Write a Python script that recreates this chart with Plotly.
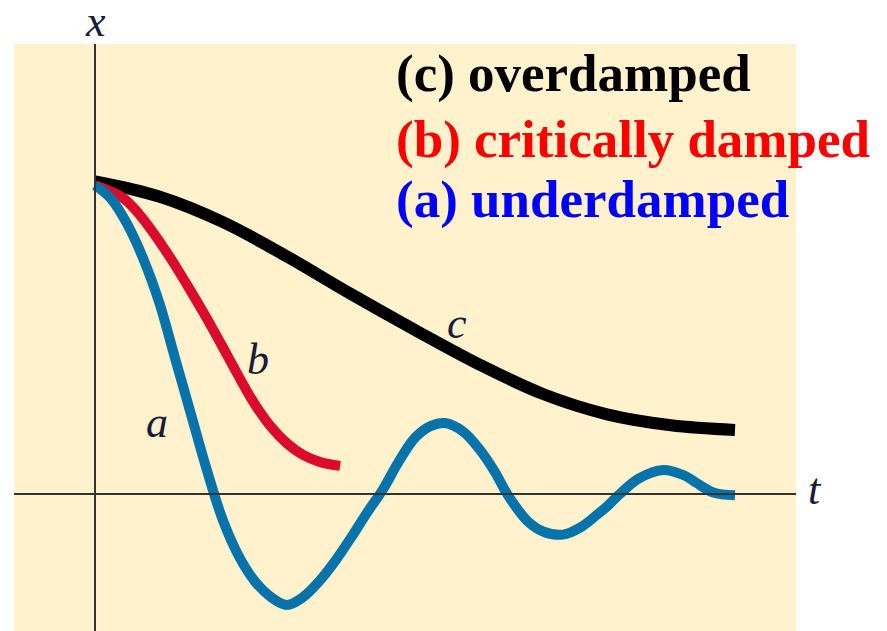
import plotly.graph_objects as go

# --- data (t in arbitrary time units, x in units of initial displacement)
t_over = [0, 1, 2, 3, 4, 5, 6, 7, 8, 9, 10]
x_over = [1.0, 0.952, 0.870, 0.760, 0.640, 0.525, 0.415, 0.320, 0.255, 0.220, 0.205]

t_crit = [0, 0.44, 0.70, 0.97, 1.22, 1.48, 1.75, 1.98, 2.22, 2.47, 2.73, 3.0, 3.25, 3.52, 3.83]
x_crit = [0.988, 0.947, 0.893, 0.819, 0.742, 0.655, 0.561, 0.476, 0.386, 0.296, 0.22, 0.162, 0.125, 0.102, 0.090]

t_under = [0, 0.25, 0.5, 0.75, 1.0, 1.25, 1.5, 1.75, 2.0, 2.25, 2.5, 2.75, 3.0,
           3.25, 3.5, 3.75, 4.0, 4.25, 4.5, 4.75, 5.0, 5.25, 5.47, 5.75, 6.0, 6.25,
           6.44, 6.75, 7.0, 7.31, 7.6, 7.84, 8.0, 8.2, 8.5, 8.875, 9.2, 9.4, 9.66, 10]
x_under = [0.988, 0.945, 0.865, 0.755, 0.615, 0.435, 0.255, 0.075, -0.085, -0.2, -0.28, -0.33, -0.355,
           -0.33, -0.28, -0.215, -0.14, -0.06, 0.015, 0.105, 0.18, 0.218, 0.227, 0.2, 0.145, 0.07,
           0.0, -0.085, -0.12, -0.13, -0.105, -0.067, -0.04, 0.0, 0.05, 0.077, 0.06, 0.035, 0.005, -0.004]

curve_letters = ["a", "b", "c"]
curve_label_t = [0.97, 2.55, 5.66]
curve_label_x = [0.23, 0.43, 0.545]

legend_lines = ["(c) overdamped", "(b) critically damped", "(a) underdamped"]
legend_colors = ["#000000", "#FF0000", "#0000FF"]

BG = "#FFF2CC"

# screen-pixel geometry of the plot area (page body has an 8px margin)
PX_L, PX_R, PX_T, PX_B = 14, 796, 44, 631
PW, PH = PX_R - PX_L, PX_B - PX_T

fig = go.Figure()
fig.add_trace(go.Scatter(x=t_over, y=x_over, mode="lines", line=dict(color="#000000", width=12, shape="spline"),
                         showlegend=False, hoverinfo="skip"))
fig.add_trace(go.Scatter(x=t_crit, y=x_crit, mode="lines", line=dict(color="#DC0A2D", width=10, shape="spline"),
                         showlegend=False, hoverinfo="skip"))
fig.add_trace(go.Scatter(x=t_under, y=x_under, mode="lines", line=dict(color="#0674AB", width=10, shape="spline"),
                         showlegend=False, hoverinfo="skip"))

# axes drawn above the curves
fig.add_shape(type="line", xref="paper", yref="y", x0=0, x1=1, y0=0, y1=0,
              line=dict(color="#333333", width=2), layer="above")
fig.add_shape(type="line", xref="x", yref="paper", x0=0, x1=0, y0=0, y1=1,
              line=dict(color="#333333", width=2), layer="above")

italic_font = dict(family="Liberation Serif", size=44, color="#1a1a3a", style="italic")
for letter, tt, xx in zip(curve_letters, curve_label_t, curve_label_x):
    fig.add_annotation(x=tt, y=xx, xref="x", yref="y", text=letter, showarrow=False,
                       font=italic_font, xanchor="center", yanchor="middle")

# axis titles
fig.add_annotation(x=0, y=(PX_B - 22) / PH, xref="x", yref="paper", text="x", showarrow=False,
                   font=italic_font, xanchor="center", yanchor="middle")
fig.add_annotation(x=(815 - PX_L) / PW, y=0.013, xref="paper", yref="y", text="t", showarrow=False,
                   font=italic_font, xanchor="center", yanchor="middle")

# legend text
legend_y_px = [73, 139, 199]
for txt, col, ypx in zip(legend_lines, legend_colors, legend_y_px):
    fig.add_annotation(x=(394 - PX_L) / PW, y=(PX_B - ypx) / PH, xref="paper", yref="paper",
                       text="<b>" + txt + "</b>", showarrow=False,
                       font=dict(family="Liberation Serif", size=53, color=col),
                       xanchor="left", yanchor="middle")

fig.update_layout(
    width=887, height=631,
    margin=dict(l=PX_L - 8, r=887 - (PX_R - 8), t=PX_T - 8, b=631 - (PX_B - 8)),
    paper_bgcolor="white", plot_bgcolor=BG,
    xaxis=dict(range=[-81 / 64, 701 / 64], showgrid=False, zeroline=False, showticklabels=False,
               ticks="", showline=False, fixedrange=True),
    yaxis=dict(range=[-137 / 312.5, 450 / 312.5], showgrid=False, zeroline=False, showticklabels=False,
               ticks="", showline=False, fixedrange=True),
)

fig.write_html("out.html")
